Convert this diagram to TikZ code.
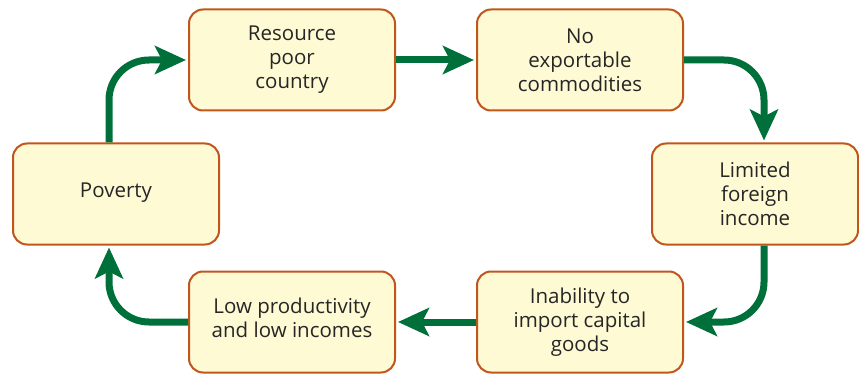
\documentclass[tikz,border=0pt]{standalone}
\usepackage{fontspec}
\setmainfont{Open Sans}
\usetikzlibrary{arrows.meta,calc}
\definecolor{boxfill}{HTML}{FEFAD4}
\definecolor{boxdraw}{HTML}{C0561C}
\definecolor{arrgreen}{HTML}{00703A}
\definecolor{txt}{HTML}{262626}
\tikzset{
  cbox/.style={draw=boxdraw, line width=2pt, fill=boxfill, rounded corners=14pt,
    minimum width=206pt, minimum height=101pt, inner sep=0pt, align=center,
    text=txt, font=\fontsize{20.5}{24}\selectfont},
  flow/.style={draw=arrgreen, line width=7pt, rounded corners=40pt,
    -{Stealth[length=31pt,width=28pt,inset=7pt]}, shorten >=2pt}
}
\begin{document}
\begin{tikzpicture}[x=1pt,y=-1pt]
\useasboundingbox (0,0) rectangle (859,374);
\node[cbox] (res) at (292,60) {Resource\\poor\\country};
\node[cbox] (nox) at (580,60) {No\\exportable\\commodities};
\node[cbox] (lim) at (755,194) {Limited\\foreign\\income};
\node[cbox] (inab) at (580,322) {Inability to\\import capital\\goods};
\node[cbox, text depth=8pt] (low) at (292,322) {Low productivity\\and low incomes};
\node[cbox, text depth=8pt] (pov) at (116,194) {Poverty};
\draw[flow] ([xshift=-7pt]pov.north) |- (res.west);
\draw[flow] (res.east) -- (nox.west);
\draw[flow] (nox.east) -| ([xshift=9pt]lim.north);
\draw[flow] ([xshift=9pt]lim.south) |- (inab.east);
\draw[flow] (inab.west) -- (low.west -| low.east);
\draw[flow] (low.west) -| ([xshift=-7pt]pov.south);
\end{tikzpicture}
\end{document}
